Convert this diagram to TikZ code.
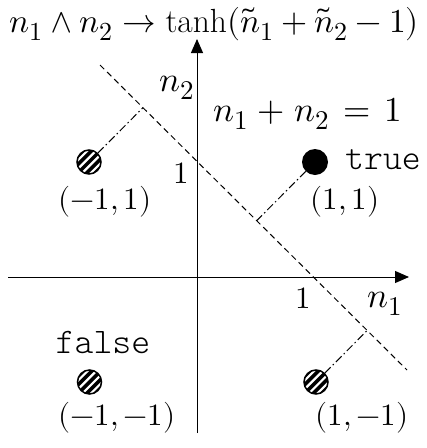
\documentclass[tikz,border=0pt]{standalone}
\usepackage{fontspec}
\usepackage{unicode-math}
\newfontfamily\lightmono{Latin Modern Mono Light}
\DeclareMathSizes{31}{31}{24}{19}
\DeclareMathSizes{33.5}{33.5}{26}{20}
\DeclareMathSizes{35}{35}{27}{21}
\usetikzlibrary{calc,arrows.meta}
\begin{document}
\begin{tikzpicture}[x=1pt,y=-1pt,
  lbl/.style={font=\fontsize{31}{37}\selectfont, inner sep=0pt},
  big/.style={font=\fontsize{35}{41}\selectfont, inner sep=0pt},
  ttlf/.style={font=\fontsize{33.5}{40}\selectfont, inner sep=0pt},
  mono/.style={font=\fontsize{36}{42}\selectfont\lightmono, inner sep=0pt},
  axis/.style={line width=1pt, -{Triangle[length=14pt,width=12pt]}},
  sepline/.style={line width=1pt, dash pattern=on 6pt off 4pt},
  distline/.style={line width=1pt, dash pattern=on 8pt off 3pt on 1.5pt off 3pt},
  blackdot/.style={circle, fill=black, minimum size=26pt, inner sep=0pt},
  hatchdot/.style={circle, fill=black, draw=black, line width=1.5pt, minimum size=24pt, inner sep=0pt,
    path picture={\foreach \k in {-1.5,-0.5,0.5,1.5}
      \draw[white, line width=2.2pt] ([shift={(\k*4.3pt-20pt,-\k*4.3pt-20pt)}]path picture bounding box.center) -- ++(40pt,40pt);}}]
\useasboundingbox (0,0) rectangle (427,448);
% axes
\coordinate (xs) at (8,277); \coordinate (xe) at (409,277);
\coordinate (ys) at (197,433); \coordinate (ye) at (197,39);
\draw[axis] (xs) -- (xe);
\draw[axis] (ys) -- (ye);
% separating line
\coordinate (la) at (100,65); \coordinate (lb) at (407,370);
\draw[sepline] (la) -- (lb);
% points
\node[hatchdot] (pmp) at (89,162) {};
\node[blackdot] (ppp) at (315,162) {};
\node[hatchdot] (pmm) at (89.5,382) {};
\node[hatchdot] (ppm) at (316,382) {};
% distances
\coordinate (fmp) at ($(la)!(pmp)!(lb)$);
\coordinate (fpp) at ($(la)!(ppp)!(lb)$);
\coordinate (fpm) at ($(la)!(ppm)!(lb)$);
\draw[distline] (pmp) -- (fmp);
\draw[distline] (ppp) -- (fpp);
\draw[distline] (ppm) -- (fpm);
% labels
\node[ttlf, anchor=base] (title) at (214,32) {$n_1 \wedge n_2 \to \tanh(\tilde{n}_1 + \tilde{n}_2 - 1)$};
\node[big, anchor=base east] (n2) at (195,91) {$n_2$};
\node[big, anchor=base west] (eq) at (213,121) {\medmuskip=5mu\thickmuskip=7mu$n_1 + n_2 = 1$};
\node[lbl, anchor=base] (oney) at (181,183) {$1$};
\node[mono, anchor=base west] (true) at (345,169) {true};
\node[lbl, anchor=base] (lpp) at (345,209) {$(1,1)$};
\node[lbl, anchor=base] (lmp) at (105,209) {$(-1,1)$};
\node[lbl, anchor=base] (onex) at (303,308) {$1$};
\node[big, anchor=base west] (n1) at (367,307) {$n_1$};
\node[mono, anchor=base] (false) at (103,353) {false};
\node[lbl, anchor=base] (lmm) at (117,425) {$(-1,-1)$};
\node[lbl, anchor=base] (lpm) at (362,425) {$(1,-1)$};
\end{tikzpicture}
\end{document}
